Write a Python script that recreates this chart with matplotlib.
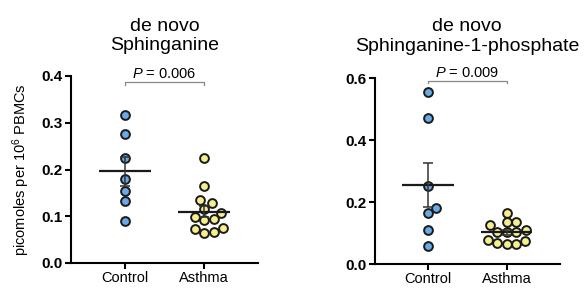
import numpy as np
import matplotlib
matplotlib.use('Agg')
import matplotlib.pyplot as plt
from matplotlib.transforms import offset_copy

plt.rcParams['font.family'] = ['Liberation Sans', 'DejaVu Sans']
plt.rcParams['mathtext.fontset'] = 'custom'
plt.rcParams['mathtext.rm'] = 'Liberation Sans'
plt.rcParams['mathtext.it'] = 'Liberation Sans:italic'

#%% data
groups = ['Control', 'Asthma']

sa_control = [0.316, 0.276, 0.224, 0.179, 0.154, 0.132, 0.090]
sa_asthma = [0.224, 0.164, 0.134, 0.128, 0.115, 0.106, 0.099, 0.094, 0.091,
             0.074, 0.072, 0.066, 0.064]
sa_p = 'P = 0.006'

s1p_control = [0.557, 0.472, 0.251, 0.182, 0.165, 0.109, 0.059]
s1p_asthma = [0.166, 0.136, 0.135, 0.125, 0.109, 0.103, 0.103, 0.103,
              0.077, 0.073, 0.068, 0.066, 0.064]
s1p_p = 'P = 0.009'

blue = '#6aa9e6'
yellow = '#f6f08c'
edge = '#1a1a1a'


def swarm(ax, vals, center, diam):
    """simple beeswarm: offsets in pixel space, returns x in data units"""
    tr = ax.transData
    yp = [tr.transform((center, v))[1] for v in vals]
    x0 = tr.transform((center, 0))[0]
    placed = []
    xs = [0.0] * len(vals)
    order = np.argsort(vals)
    for i in order:
        cands = [0.0]
        for (px, py) in placed:
            dy = yp[i] - py
            if abs(dy) < diam:
                dx = np.sqrt(diam**2 - dy**2)
                cands += [px + dx, px - dx]
        cands.sort(key=abs)
        for c in cands:
            ok = all((c - px)**2 + (yp[i] - py)**2 >= diam**2 - 1e-6
                     for (px, py) in placed)
            if ok:
                break
        placed.append((c, yp[i]))
        xs[i] = tr.inverted().transform((x0 + c, yp[i]))[0]
    return xs


def panel(ax, ctrl, asth, ymax, yticks, title, ptxt, bracket_frac, tpad):
    ax.set_xlim(-0.68, 1.68)
    ax.set_ylim(0, ymax)
    for k, (vals, col) in enumerate([(ctrl, blue), (asth, yellow)]):
        vals = np.array(vals)
        xs = swarm(ax, vals, k, 9.6)
        ax.scatter(xs, vals, s=40, c=col, edgecolors=edge, linewidths=1.4,
                   zorder=3)
        m = vals.mean()
        se = vals.std(ddof=1) / np.sqrt(len(vals))
        ax.plot([k - 0.33, k + 0.33], [m, m], color='#1a1a1a', lw=1.6,
                zorder=4, solid_capstyle='butt')
        ax.errorbar(k, m, yerr=se, color='#333333', lw=1.1, capsize=3.5,
                    capthick=1.1, zorder=4)
    ax.set_xticks([0, 1])
    ax.set_xticklabels(groups, fontsize=10.5)
    ax.set_yticks(yticks)
    ax.set_yticklabels(['%.1f' % t for t in yticks], fontsize=11,
                       fontweight='bold')
    for s in ['top', 'right']:
        ax.spines[s].set_visible(False)
    for s in ['left', 'bottom']:
        ax.spines[s].set_linewidth(1.5)
    ax.tick_params(width=1.5, length=4, pad=2)
    ax.set_title(title, fontsize=14, pad=tpad, linespacing=1.2)
    # significance bracket
    yb = ymax * bracket_frac
    ax.plot([0, 0, 1, 1], [yb - ymax * 0.012, yb, yb, yb - ymax * 0.012],
            color='#888888', lw=0.9, clip_on=False)
    tr = offset_copy(ax.transData, fig=ax.figure, x=0, y=4, units='dots')
    ax.text(0.5, yb, '$P$' + ptxt[1:], ha='center', va='baseline',
            fontsize=10.5, transform=tr)


fig = plt.figure(figsize=(5.86, 2.89), dpi=100)
W, H = 586, 289
ax1 = fig.add_axes([71 / W, (H - 263) / H, (258 - 71) / W, (263 - 76) / H])
ax2 = fig.add_axes([374.5 / W, (H - 264) / H, (560 - 374.5) / W,
                    (264 - 78.3) / H])

panel(ax1, sa_control, sa_asthma, 0.4, [0, 0.1, 0.2, 0.3, 0.4],
      'de novo\nSphinganine', sa_p, 0.966, 18.5)
panel(ax2, s1p_control, s1p_asthma, 0.6, [0, 0.2, 0.4, 0.6],
      'de novo\nSphinganine-1-phosphate', s1p_p, 0.987, 20)

ax1.set_ylabel('picomoles per 10$^6$ PBMCs', fontsize=10.5, labelpad=7)

fig.savefig('out.png', dpi=100)
